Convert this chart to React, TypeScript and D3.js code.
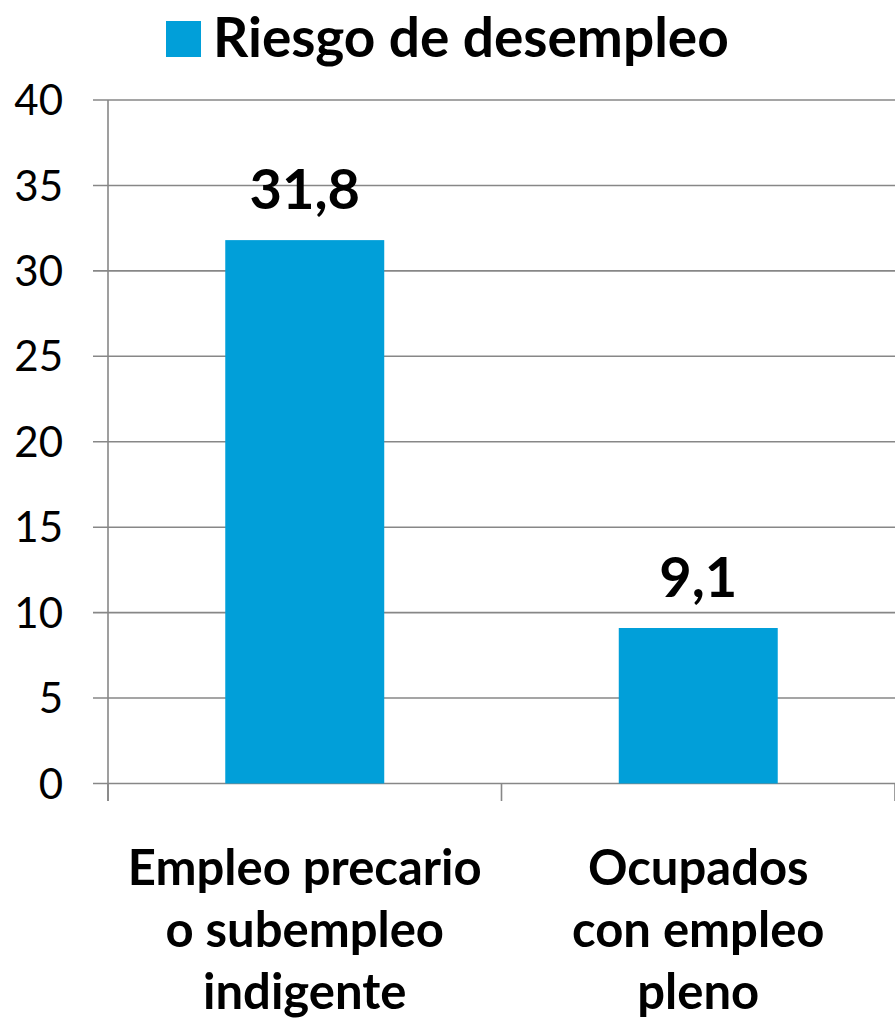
import React from "react";
import * as d3 from "d3";

const categories: string[][] = [
  ["Empleo precario", "o subempleo", "indigente"],
  ["Ocupados", "con empleo", "pleno"],
];
const values: number[] = [31.8, 9.1];
const valueLabels: string[] = ["31,8", "9,1"];
const yTicks: number[] = [0, 5, 10, 15, 20, 25, 30, 35, 40];
const seriesName = "Riesgo de desempleo";

const W = 895;
const H = 1021;
const FONT = "Lato, 'Open Sans', sans-serif";
const BAR = "#019fd9";
const GRID = "#878787";

export default function App() {
  const left = 108;
  const right = 895;
  const y = d3.scaleLinear().domain([0, 40]).range([783.5, 100]);
  const x = d3
    .scaleBand<number>()
    .domain(values.map((_, i) => i))
    .range([left, right])
    .paddingInner(0.596)
    .paddingOuter(0.298);
  const step = x.step();
  const catTicks = [left, left + (right - left) / 2, right];

  return (
    <svg width={W} height={H} style={{ display: "block", position: "absolute", left: 0, top: 0 }}>
      <rect width={W} height={H} fill="#fff" />
      {/* gridlines */}
      {yTicks.map((t) => (
        <line key={t} x1={93} x2={right} y1={y(t)} y2={y(t)} stroke={GRID} strokeWidth={1.6} />
      ))}
      {/* y axis */}
      <line x1={left} x2={left} y1={y(40)} y2={801} stroke={GRID} strokeWidth={1.6} />
      {catTicks.map((cx, i) => (
        <line key={i} x1={cx} x2={cx} y1={y(0)} y2={801} stroke={GRID} strokeWidth={1.6} />
      ))}
      {/* y tick labels */}
      {yTicks.map((t) => (
        <text
          key={t}
          x={63}
          y={y(t)}
          dy="0.36em"
          textAnchor="end"
          fontFamily={FONT}
          fontSize={42}
          fill="#000"
        >
          {t}
        </text>
      ))}
      {/* bars */}
      {values.map((v, i) => (
        <rect
          key={i}
          x={x(i)}
          y={y(v)}
          width={x.bandwidth()}
          height={y(0) - y(v)}
          fill={BAR}
        />
      ))}
      {/* value labels */}
      {values.map((v, i) => (
        <text
          key={i}
          x={(x(i) as number) + x.bandwidth() / 2}
          y={y(v) - 31}
          textAnchor="middle"
          fontFamily={FONT}
          fontWeight="bold"
          fontSize={56}
          fill="#000"
        >
          {valueLabels[i]}
        </text>
      ))}
      {/* category labels */}
      {categories.map((lines, i) => (
        <text
          key={i}
          textAnchor="middle"
          fontFamily={FONT}
          fontWeight="bold"
          fontSize={49}
          fill="#000"
        >
          {lines.map((l, j) => (
            <tspan key={j} x={left + step * i + step / 2} y={885 + j * 62}>
              {l}
            </tspan>
          ))}
        </text>
      ))}
      {/* legend */}
      <rect x={166} y={21} width={35} height={36} fill={BAR} />
      <text x={213} y={57} fontFamily={FONT} fontWeight="bold" fontSize={55} fill="#000">
        {seriesName}
      </text>
    </svg>
  );
}
